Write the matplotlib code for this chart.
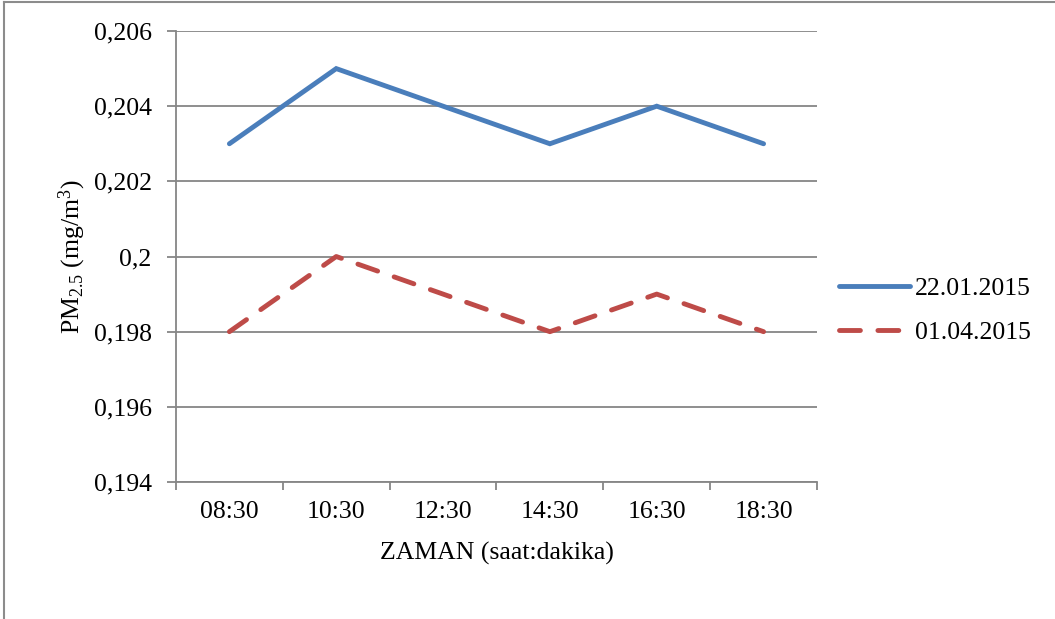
import matplotlib
matplotlib.use('Agg')
import matplotlib.pyplot as plt
from matplotlib.lines import Line2D

# data
times = ['08:30', '10:30', '12:30', '14:30', '16:30', '18:30']
pm_jan = [0.203, 0.205, 0.204, 0.203, 0.204, 0.203]
pm_apr = [0.198, 0.200, 0.199, 0.198, 0.199, 0.198]
labels = ['22.01.2015', '01.04.2015']
yticks = [0.194, 0.196, 0.198, 0.200, 0.202, 0.204, 0.206]
ytick_labels = ['0,194', '0,196', '0,198', '0,2', '0,202', '0,204', '0,206']

plt.rcParams['font.family'] = ['Liberation Serif', 'DejaVu Serif']
plt.rcParams['mathtext.fontset'] = 'custom'
plt.rcParams['mathtext.rm'] = 'Liberation Serif'
plt.rcParams['mathtext.it'] = 'Liberation Serif:italic'

fs = 18.5
gray = '#868686'

fig = plt.figure(figsize=(10.55, 6.19), dpi=100)
ax = fig.add_axes([0.1668, 0.2213, 0.6076, 0.7286])

x = list(range(len(times)))
ax.plot(x, pm_jan, '-', color='#4A7EBB', lw=3.5, solid_capstyle='round',
        solid_joinstyle='miter', label=labels[0], zorder=3)
ax.plot(x, pm_apr, '--', color='#BE4B48', lw=3.5, dashes=(4.3, 3.6),
        dash_capstyle='round', label=labels[1], zorder=3)

ax.set_xlim(-0.5, len(times) - 0.5)
ax.set_ylim(yticks[0], yticks[-1])
ax.set_yticks(yticks)
ax.set_yticklabels(ytick_labels, fontsize=fs)
ax.set_xticks([i - 0.5 for i in range(len(times) + 1)])
ax.set_xticklabels([])
ax.set_xticks(x, minor=True)
ax.set_xticklabels(times, minor=True, fontsize=fs)
ax.tick_params(axis='x', which='minor', length=0, pad=14)
ax.tick_params(axis='x', which='major', length=5.5, width=1.3, color=gray, direction='out')
ax.tick_params(axis='y', length=6.5, width=1.3, color=gray, direction='out', pad=11)

ax.grid(axis='y', color=gray, lw=1.3)
ax.set_axisbelow(True)
for s in ['top', 'right']:
    ax.spines[s].set_visible(False)
for s in ['left', 'bottom']:
    ax.spines[s].set_color(gray)
    ax.spines[s].set_linewidth(1.3)

ax.set_xlabel('ZAMAN (saat:dakika)', fontsize=fs, labelpad=13)
ax.set_ylabel('PM$_{2.5}$ (mg/m$^3$)', fontsize=fs, labelpad=4)

ax.legend(loc='center left', bbox_to_anchor=(839 / 1055, 1 - 310.5 / 619),
          bbox_transform=fig.transFigure, frameon=False, borderpad=0,
          borderaxespad=0, fontsize=fs, handlelength=2.75, handletextpad=0.2,
          labelspacing=0.8)

# outer frame: only top and left edges show
fig.add_artist(Line2D([0.004, 1.0], [0.996, 0.996], transform=fig.transFigure,
                      color='#8c8c8c', lw=1.5))
fig.add_artist(Line2D([0.004, 0.004], [0.0, 0.996], transform=fig.transFigure,
                      color='#8c8c8c', lw=1.5))

fig.savefig('out.png', dpi=100)
